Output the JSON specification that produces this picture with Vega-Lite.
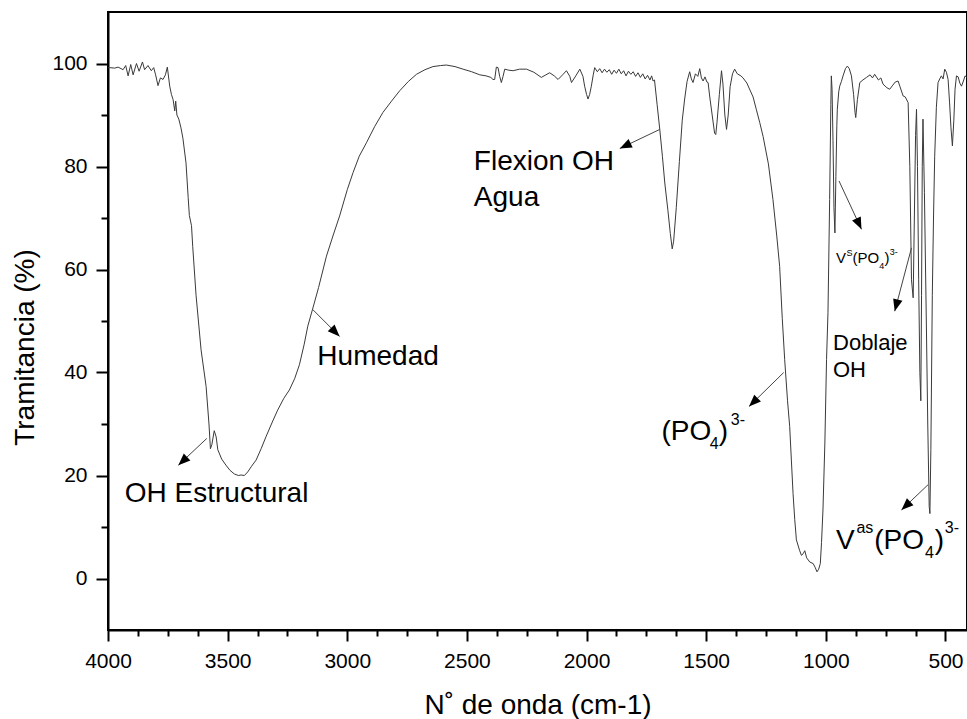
{
  "$schema": "https://vega.github.io/schema/vega-lite/v6.json",
  "width": 859,
  "height": 618,
  "autosize": {"type": "none"},
  "padding": {"left": 108, "top": 12, "right": 0, "bottom": 89},
  "background": "white",
  "config": {
    "view": {"stroke": "black", "strokeWidth": 2},
    "font": "Liberation Sans",
    "axis": {"grid": false, "domainColor": "black", "domainWidth": 2, "tickColor": "black", "tickWidth": 2, "labelColor": "black", "titleColor": "black", "labelFont": "Liberation Sans", "titleFont": "Liberation Sans", "titleFontWeight": "normal"}
  },
  "datasets": {
    "spectrum": [
      {"wn":4000,"T":99.2},{"wn":3993,"T":99.2},{"wn":3972,"T":99.1},{"wn":3958,"T":99.3},{"wn":3937,"T":98.8},{"wn":3926,"T":99.6},{"wn":3916,"T":97.6},{"wn":3905,"T":99.8},{"wn":3895,"T":97.8},{"wn":3881,"T":100.0},{"wn":3870,"T":98.5},{"wn":3856,"T":100.3},{"wn":3847,"T":98.8},{"wn":3833,"T":99.6},{"wn":3819,"T":98.6},{"wn":3809,"T":99.2},{"wn":3801,"T":97.8},{"wn":3791,"T":95.7},{"wn":3781,"T":97.2},{"wn":3770,"T":96.9},{"wn":3760,"T":97.8},{"wn":3752,"T":99.3},{"wn":3742,"T":95.6},{"wn":3735,"T":94.0},{"wn":3728,"T":93.0},{"wn":3721,"T":90.8},{"wn":3717,"T":92.7},{"wn":3712,"T":90.0},{"wn":3704,"T":89.2},{"wn":3695,"T":87.5},{"wn":3687,"T":85.5},{"wn":3674,"T":80.7},{"wn":3665,"T":74.0},{"wn":3660,"T":70.5},{"wn":3651,"T":68.5},{"wn":3646,"T":64.5},{"wn":3632,"T":55.0},{"wn":3611,"T":44.4},{"wn":3590,"T":37.3},{"wn":3578,"T":30.0},{"wn":3572,"T":25.2},{"wn":3566,"T":26.0},{"wn":3556,"T":28.7},{"wn":3548,"T":27.5},{"wn":3541,"T":25.0},{"wn":3525,"T":23.2},{"wn":3507,"T":22.0},{"wn":3490,"T":21.0},{"wn":3472,"T":20.3},{"wn":3455,"T":20.0},{"wn":3444,"T":20.1},{"wn":3430,"T":20.0},{"wn":3416,"T":20.7},{"wn":3400,"T":21.8},{"wn":3381,"T":23.0},{"wn":3360,"T":25.2},{"wn":3340,"T":27.5},{"wn":3315,"T":30.2},{"wn":3291,"T":32.7},{"wn":3265,"T":35.0},{"wn":3242,"T":36.6},{"wn":3220,"T":38.8},{"wn":3200,"T":41.5},{"wn":3180,"T":45.5},{"wn":3165,"T":49.0},{"wn":3145,"T":52.3},{"wn":3120,"T":56.5},{"wn":3087,"T":62.6},{"wn":3060,"T":66.5},{"wn":3032,"T":70.4},{"wn":3000,"T":75.5},{"wn":2976,"T":78.8},{"wn":2950,"T":82.0},{"wn":2920,"T":84.6},{"wn":2885,"T":87.8},{"wn":2851,"T":90.5},{"wn":2815,"T":92.7},{"wn":2781,"T":94.7},{"wn":2745,"T":96.5},{"wn":2711,"T":97.9},{"wn":2675,"T":98.8},{"wn":2642,"T":99.4},{"wn":2610,"T":99.6},{"wn":2586,"T":99.7},{"wn":2550,"T":99.4},{"wn":2516,"T":98.9},{"wn":2480,"T":98.4},{"wn":2446,"T":97.8},{"wn":2420,"T":97.6},{"wn":2400,"T":97.3},{"wn":2391,"T":96.9},{"wn":2384,"T":96.9},{"wn":2377,"T":99.3},{"wn":2370,"T":99.2},{"wn":2363,"T":97.5},{"wn":2356,"T":96.3},{"wn":2349,"T":97.5},{"wn":2342,"T":98.9},{"wn":2325,"T":98.7},{"wn":2307,"T":98.6},{"wn":2280,"T":98.9},{"wn":2251,"T":98.9},{"wn":2220,"T":98.3},{"wn":2189,"T":97.3},{"wn":2170,"T":97.8},{"wn":2154,"T":98.2},{"wn":2135,"T":97.6},{"wn":2119,"T":96.9},{"wn":2100,"T":97.8},{"wn":2084,"T":98.6},{"wn":2070,"T":97.5},{"wn":2063,"T":96.3},{"wn":2045,"T":97.6},{"wn":2028,"T":98.9},{"wn":2015,"T":97.5},{"wn":2008,"T":95.6},{"wn":2000,"T":94.0},{"wn":1994,"T":93.1},{"wn":1987,"T":94.0},{"wn":1980,"T":95.6},{"wn":1972,"T":97.8},{"wn":1966,"T":99.2},{"wn":1955,"T":98.4},{"wn":1945,"T":99.0},{"wn":1935,"T":98.2},{"wn":1925,"T":98.9},{"wn":1915,"T":98.3},{"wn":1905,"T":98.8},{"wn":1895,"T":97.9},{"wn":1885,"T":98.7},{"wn":1875,"T":98.1},{"wn":1865,"T":98.9},{"wn":1855,"T":98.0},{"wn":1845,"T":98.6},{"wn":1835,"T":97.6},{"wn":1825,"T":98.5},{"wn":1815,"T":97.9},{"wn":1805,"T":98.4},{"wn":1795,"T":97.5},{"wn":1785,"T":98.2},{"wn":1775,"T":97.3},{"wn":1765,"T":98.0},{"wn":1755,"T":97.0},{"wn":1745,"T":97.7},{"wn":1735,"T":96.8},{"wn":1728,"T":97.6},{"wn":1722,"T":96.6},{"wn":1716,"T":96.8},{"wn":1705,"T":92.0},{"wn":1694,"T":87.2},{"wn":1683,"T":82.0},{"wn":1673,"T":76.8},{"wn":1660,"T":71.5},{"wn":1650,"T":67.0},{"wn":1642,"T":64.0},{"wn":1636,"T":65.5},{"wn":1625,"T":72.0},{"wn":1612,"T":81.0},{"wn":1600,"T":89.0},{"wn":1590,"T":93.1},{"wn":1580,"T":96.5},{"wn":1569,"T":98.4},{"wn":1562,"T":97.0},{"wn":1555,"T":96.3},{"wn":1545,"T":98.0},{"wn":1535,"T":97.5},{"wn":1527,"T":99.0},{"wn":1520,"T":97.2},{"wn":1513,"T":96.6},{"wn":1505,"T":97.4},{"wn":1497,"T":96.4},{"wn":1492,"T":96.3},{"wn":1485,"T":93.5},{"wn":1475,"T":90.0},{"wn":1465,"T":86.5},{"wn":1460,"T":86.2},{"wn":1455,"T":88.5},{"wn":1445,"T":94.0},{"wn":1436,"T":98.6},{"wn":1430,"T":96.0},{"wn":1422,"T":90.0},{"wn":1415,"T":87.2},{"wn":1408,"T":90.0},{"wn":1400,"T":95.5},{"wn":1390,"T":98.0},{"wn":1381,"T":98.9},{"wn":1370,"T":98.0},{"wn":1355,"T":97.6},{"wn":1346,"T":97.2},{"wn":1330,"T":96.2},{"wn":1304,"T":93.5},{"wn":1290,"T":91.0},{"wn":1276,"T":88.5},{"wn":1262,"T":85.8},{"wn":1240,"T":80.5},{"wn":1221,"T":73.6},{"wn":1205,"T":66.5},{"wn":1193,"T":60.6},{"wn":1182,"T":50.5},{"wn":1172,"T":42.5},{"wn":1160,"T":34.5},{"wn":1151,"T":29.5},{"wn":1144,"T":23.0},{"wn":1137,"T":16.5},{"wn":1130,"T":11.5},{"wn":1123,"T":7.5},{"wn":1110,"T":5.5},{"wn":1102,"T":4.5},{"wn":1095,"T":4.8},{"wn":1088,"T":5.4},{"wn":1080,"T":4.0},{"wn":1067,"T":3.2},{"wn":1053,"T":2.9},{"wn":1045,"T":2.2},{"wn":1037,"T":1.3},{"wn":1030,"T":1.8},{"wn":1023,"T":2.9},{"wn":1018,"T":7.0},{"wn":1012,"T":13.3},{"wn":1004,"T":26.3},{"wn":997,"T":42.5},{"wn":991,"T":51.6},{"wn":984,"T":73.6},{"wn":979,"T":92.0},{"wn":977,"T":97.6},{"wn":974,"T":95.0},{"wn":970,"T":85.0},{"wn":966,"T":72.0},{"wn":962,"T":67.1},{"wn":958,"T":78.0},{"wn":954,"T":88.0},{"wn":952,"T":91.1},{"wn":946,"T":94.5},{"wn":942,"T":95.6},{"wn":935,"T":96.5},{"wn":928,"T":97.6},{"wn":918,"T":99.0},{"wn":910,"T":99.5},{"wn":902,"T":99.0},{"wn":893,"T":97.6},{"wn":884,"T":94.0},{"wn":878,"T":90.5},{"wn":875,"T":89.5},{"wn":868,"T":93.0},{"wn":858,"T":96.3},{"wn":845,"T":96.8},{"wn":830,"T":97.3},{"wn":815,"T":97.8},{"wn":805,"T":97.2},{"wn":796,"T":97.9},{"wn":780,"T":96.8},{"wn":770,"T":97.2},{"wn":761,"T":96.0},{"wn":745,"T":95.3},{"wn":733,"T":95.0},{"wn":720,"T":95.8},{"wn":710,"T":96.4},{"wn":698,"T":96.6},{"wn":690,"T":95.5},{"wn":677,"T":93.7},{"wn":668,"T":93.5},{"wn":656,"T":92.4},{"wn":649,"T":80.0},{"wn":642,"T":58.0},{"wn":635,"T":54.5},{"wn":630,"T":70.0},{"wn":625,"T":86.0},{"wn":621,"T":91.1},{"wn":617,"T":80.0},{"wn":612,"T":58.0},{"wn":607,"T":40.0},{"wn":603,"T":34.5},{"wn":600,"T":55.0},{"wn":597,"T":80.0},{"wn":594,"T":89.2},{"wn":588,"T":75.0},{"wn":580,"T":50.0},{"wn":574,"T":30.0},{"wn":568,"T":14.0},{"wn":565,"T":12.6},{"wn":561,"T":25.0},{"wn":555,"T":55.0},{"wn":550,"T":70.0},{"wn":545,"T":82.0},{"wn":538,"T":91.5},{"wn":531,"T":96.3},{"wn":524,"T":97.0},{"wn":517,"T":97.6},{"wn":510,"T":97.0},{"wn":503,"T":98.9},{"wn":496,"T":98.3},{"wn":489,"T":96.9},{"wn":483,"T":92.5},{"wn":477,"T":87.5},{"wn":471,"T":84.0},{"wn":465,"T":89.0},{"wn":460,"T":95.0},{"wn":454,"T":97.6},{"wn":447,"T":97.4},{"wn":440,"T":96.2},{"wn":433,"T":95.6},{"wn":425,"T":96.6},{"wn":418,"T":97.6},{"wn":411,"T":97.3}
    ],
    "labels": [
      {"text":"Flexion OH","wn":2471,"T":79.4,"kind":"main"},
      {"text":"Agua","wn":2471,"T":72.3,"kind":"main"},
      {"text":"Humedad","wn":3125,"T":41.5,"kind":"main"},
      {"text":"OH Estructural","wn":3930,"T":14.9,"kind":"main"},
      {"text":"(PO","wn":1687,"T":26.9,"kind":"main"},
      {"text":")","wn":1447,"T":26.9,"kind":"main"},
      {"text":"V","wn":958,"T":5.8,"kind":"main"},
      {"text":"(PO","wn":798,"T":5.8,"kind":"main"},
      {"text":")","wn":545,"T":5.8,"kind":"main"},
      {"text":"4","wn":1485,"T":25.1,"kind":"script"},
      {"text":"3-","wn":1397,"T":29.8,"kind":"script"},
      {"text":"as","wn":872,"T":8.75,"kind":"script"},
      {"text":"4","wn":586,"T":3.9,"kind":"script"},
      {"text":"3-","wn":503,"T":8.75,"kind":"script"},
      {"text":"Doblaje","wn":970,"T":44.4,"kind":"note"},
      {"text":"OH","wn":970,"T":39.2,"kind":"note"},
      {"text":"V","wn":958,"T":61.3,"kind":"small"},
      {"text":"(PO","wn":889,"T":61.3,"kind":"small"},
      {"text":")","wn":755,"T":61.3,"kind":"small"},
      {"text":"S","wn":914,"T":62.6,"kind":"tiny"},
      {"text":"4","wn":777,"T":60.1,"kind":"tiny"},
      {"text":"3-","wn":733,"T":62.9,"kind":"tiny"}
    ],
    "arrows": [
      {"x1":3587,"y1":27.2,"x2":3706,"y2":22.0,"heading":-133.3},
      {"x1":3146,"y1":52.3,"x2":3032,"y2":47.0,"heading":135.1},
      {"x1":1694,"y1":87.2,"x2":1861,"y2":83.5,"heading":-115.8},
      {"x1":1176,"y1":40.0,"x2":1321,"y2":33.4,"heading":-134.4},
      {"x1":945,"y1":77.2,"x2":851,"y2":67.8,"heading":155.1},
      {"x1":642,"y1":64.2,"x2":712,"y2":51.9,"heading":-165.2},
      {"x1":573,"y1":18.2,"x2":684,"y2":13.3,"heading":-133.2}
    ]
  },
  "resolve": {"axis": {"x": "independent", "y": "independent"}},
  "layer": [
    {
      "data": {"name": "spectrum"},
      "mark": {"type": "line", "color": "#3a3a3a", "strokeWidth": 1, "clip": true, "interpolate": "linear"},
      "encoding": {
        "x": {"field": "wn", "type": "quantitative", "sort": null,
          "scale": {"domain": [4000, 410], "nice": false, "zero": false},
          "axis": {"orient": "bottom", "values": [4000, 3500, 3000, 2500, 2000, 1500, 1000, 500], "tickSize": 11, "labelFontSize": 21, "labelBaseline": "alphabetic", "labelPadding": 26, "labelFlush": false, "labelOverlap": false, "format": "d",
            "title": "N˚ de onda (cm-1)", "titleFontSize": 28, "titleBaseline": "alphabetic", "titleY": 83}},
        "y": {"field": "T", "type": "quantitative",
          "scale": {"domain": [-10, 110], "nice": false, "zero": false},
          "axis": {"orient": "left", "values": [0, 20, 40, 60, 80, 100], "tickSize": 12, "labelFontSize": 21, "labelBaseline": "middle", "labelPadding": 9, "labelFlush": false, "labelOverlap": false,
            "title": "Tramitancia (%)", "titleFontSize": 28, "titleBaseline": "alphabetic", "titleAngle": 270, "titleAlign": "center", "titleX": -75, "titleY": 335}},
        "order": {"field": "wn", "type": "quantitative", "sort": "descending"}
      }
    },
    {
      "data": {"name": "arrows"},
      "mark": {"type": "rule", "color": "#444", "strokeWidth": 1},
      "encoding": {
        "x": {"field": "x1", "type": "quantitative",
          "scale": {"domain": [4000, 410], "nice": false, "zero": false},
          "axis": {"orient": "bottom", "values": [3875, 3750, 3625, 3375, 3250, 3125, 2875, 2750, 2625, 2375, 2250, 2125, 1875, 1750, 1625, 1375, 1250, 1125, 875, 750, 625], "tickSize": 6, "labels": false, "domain": false, "title": null}},
        "x2": {"field": "x2"},
        "y": {"field": "y1", "type": "quantitative",
          "scale": {"domain": [-10, 110], "nice": false, "zero": false},
          "axis": {"orient": "left", "values": [10, 30, 50, 70, 90], "tickSize": 7, "labels": false, "domain": false, "title": null}},
        "y2": {"field": "y2"}
      }
    },
    {
      "data": {"name": "arrows"},
      "mark": {"type": "point", "shape": "M0,0L0.6,1.5L-0.6,1.5Z", "filled": true, "color": "black", "opacity": 1, "size": 256},
      "encoding": {
        "x": {"field": "x2", "type": "quantitative", "scale": {"domain": [4000, 410], "nice": false, "zero": false}, "axis": null},
        "y": {"field": "y2", "type": "quantitative", "scale": {"domain": [-10, 110], "nice": false, "zero": false}, "axis": null},
        "angle": {"field": "heading", "type": "quantitative", "scale": null}
      }
    },
    {
      "data": {"name": "labels"},
      "transform": [{"filter": "datum.kind === 'main'"}],
      "mark": {"type": "text", "align": "left", "baseline": "alphabetic", "fontSize": 28, "font": "Liberation Sans", "color": "black"},
      "encoding": {
        "x": {"field": "wn", "type": "quantitative", "scale": {"domain": [4000, 410], "nice": false, "zero": false}, "axis": null},
        "y": {"field": "T", "type": "quantitative", "scale": {"domain": [-10, 110], "nice": false, "zero": false}, "axis": null},
        "text": {"field": "text"}
      }
    },
    {
      "data": {"name": "labels"},
      "transform": [{"filter": "datum.kind === 'script'"}],
      "mark": {"type": "text", "align": "left", "baseline": "alphabetic", "fontSize": 16, "font": "Liberation Sans", "color": "black"},
      "encoding": {
        "x": {"field": "wn", "type": "quantitative", "scale": {"domain": [4000, 410], "nice": false, "zero": false}, "axis": null},
        "y": {"field": "T", "type": "quantitative", "scale": {"domain": [-10, 110], "nice": false, "zero": false}, "axis": null},
        "text": {"field": "text"}
      }
    },
    {
      "data": {"name": "labels"},
      "transform": [{"filter": "datum.kind === 'note'"}],
      "mark": {"type": "text", "align": "left", "baseline": "alphabetic", "fontSize": 22, "font": "Liberation Sans", "color": "black"},
      "encoding": {
        "x": {"field": "wn", "type": "quantitative", "scale": {"domain": [4000, 410], "nice": false, "zero": false}, "axis": null},
        "y": {"field": "T", "type": "quantitative", "scale": {"domain": [-10, 110], "nice": false, "zero": false}, "axis": null},
        "text": {"field": "text"}
      }
    },
    {
      "data": {"name": "labels"},
      "transform": [{"filter": "datum.kind === 'small'"}],
      "mark": {"type": "text", "align": "left", "baseline": "alphabetic", "fontSize": 15, "font": "Liberation Sans", "color": "black"},
      "encoding": {
        "x": {"field": "wn", "type": "quantitative", "scale": {"domain": [4000, 410], "nice": false, "zero": false}, "axis": null},
        "y": {"field": "T", "type": "quantitative", "scale": {"domain": [-10, 110], "nice": false, "zero": false}, "axis": null},
        "text": {"field": "text"}
      }
    },
    {
      "data": {"name": "labels"},
      "transform": [{"filter": "datum.kind === 'tiny'"}],
      "mark": {"type": "text", "align": "left", "baseline": "alphabetic", "fontSize": 9, "font": "Liberation Sans", "color": "black"},
      "encoding": {
        "x": {"field": "wn", "type": "quantitative", "scale": {"domain": [4000, 410], "nice": false, "zero": false}, "axis": null},
        "y": {"field": "T", "type": "quantitative", "scale": {"domain": [-10, 110], "nice": false, "zero": false}, "axis": null},
        "text": {"field": "text"}
      }
    }
  ]
}
